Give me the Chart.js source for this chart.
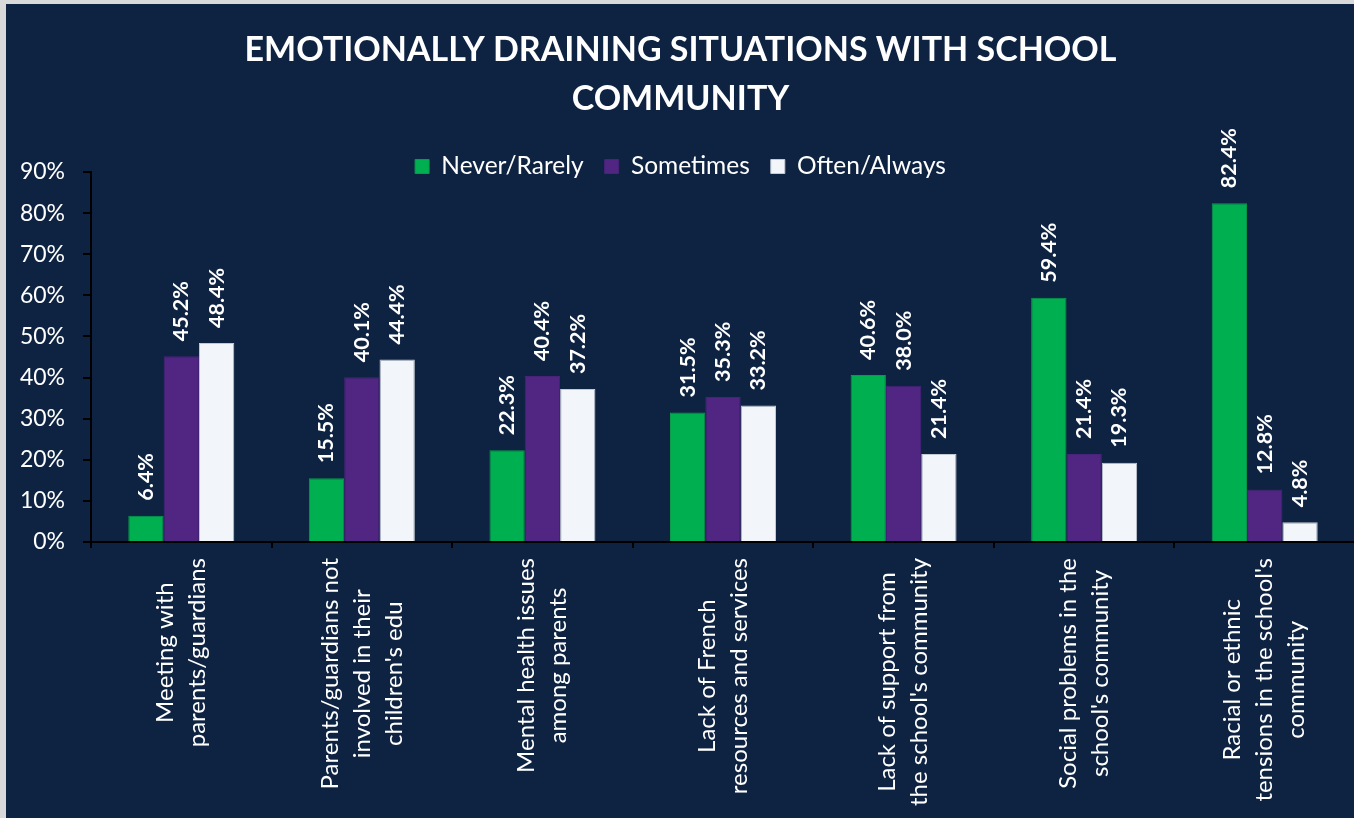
<!DOCTYPE html>
<html>
<head>
<meta charset="utf-8">
<script src="https://cdn.jsdelivr.net/npm/chart.js@4.4.1/dist/chart.umd.min.js"></script>
<style>
  html, body { margin: 0; padding: 0; background: #d9d9d9; overflow: hidden; }
  #wrap { position: absolute; left: 6px; top: 4px; width: 1350px; height: 814px; background: #0e2342; }
</style>
</head>
<body>
<div id="wrap"><canvas id="chart"></canvas></div>
<script>
const categories = [
  ['Meeting with', 'parents/guardians'],
  ['Parents/guardians not', 'involved in their', "children's edu"],
  ['Mental health issues', 'among parents'],
  ['Lack of French', 'resources and services'],
  ['Lack of support from', "the school's community"],
  ['Social problems in the', "school's community"],
  ['Racial or ethnic', "tensions in the school's", 'community']
];
const seriesNames = ['Never/Rarely', 'Sometimes', 'Often/Always'];
const neverRarely = [6.4, 15.5, 22.3, 31.5, 40.6, 59.4, 82.4];
const sometimes = [45.2, 40.1, 40.4, 35.3, 38.0, 21.4, 12.8];
const oftenAlways = [48.4, 44.4, 37.2, 33.2, 21.4, 19.3, 4.8];
const yMax = 90;
const yStep = 10;

const FONT = 'Lato, "Open Sans", sans-serif';

// value labels, rotated, above each bar
const valueLabels = {
  id: 'valueLabels',
  afterDatasetsDraw(chart) {
    const ctx = chart.ctx;
    ctx.save();
    ctx.font = 'bold 21.5px ' + FONT;
    ctx.fillStyle = '#ffffff';
    ctx.textAlign = 'left';
    ctx.textBaseline = 'middle';
    chart.data.datasets.forEach((ds, i) => {
      chart.getDatasetMeta(i).data.forEach((bar, j) => {
        ctx.save();
        ctx.translate(bar.x, bar.y - 15);
        ctx.rotate(-Math.PI / 2);
        ctx.fillText(ds.data[j].toFixed(1) + '%', 0, 0);
        ctx.restore();
      });
    });
    ctx.restore();
  }
};

// category labels: rotated, lines centred on each other
const categoryLabels = {
  id: 'categoryLabels',
  afterDraw(chart) {
    const ctx = chart.ctx;
    const xs = chart.scales.x;
    const top = xs.top + 16;
    ctx.save();
    ctx.font = '24px ' + FONT;
    ctx.fillStyle = '#ffffff';
    ctx.textAlign = 'center';
    ctx.textBaseline = 'middle';
    chart.data.labels.forEach((lines, i) => {
      const x = xs.getPixelForValue(i);
      const maxW = Math.max(...lines.map(l => ctx.measureText(l).width));
      ctx.save();
      ctx.translate(x, top + maxW / 2);
      ctx.rotate(-Math.PI / 2);
      lines.forEach((l, k) => ctx.fillText(l, 0, (k - (lines.length - 1) / 2) * 32));
      ctx.restore();
    });
    ctx.restore();
  }
};

// legend sits closer to the plot than the layout allows: nudge it down
const legendNudge = {
  id: 'legendNudge',
  afterLayout(chart) {
    if (chart.legend) {
      chart.legend.top += 16.75;
      chart.legend.bottom += 16.75;
    }
  }
};

function draw() {
  Chart.defaults.color = '#ffffff';
  Chart.defaults.font.family = FONT;

  new Chart(document.getElementById('chart'), {
    type: 'bar',
    data: {
      labels: categories,
      datasets: [
        { label: seriesNames[0], data: neverRarely, backgroundColor: '#00b050', borderColor: '#0a9a4a', borderWidth: 1 },
        { label: seriesNames[1], data: sometimes, backgroundColor: '#512683', borderColor: '#48237a', borderWidth: 1 },
        { label: seriesNames[2], data: oftenAlways, backgroundColor: '#f2f5fa', borderColor: '#c4c9d2', borderWidth: 1 }
      ]
    },
    options: {
      responsive: true,
      maintainAspectRatio: false,
      animation: false,
      layout: { padding: { left: 0, right: 1, top: 0, bottom: 0 } },
      datasets: { bar: { categoryPercentage: 0.587, barPercentage: 1.0 } },
      plugins: {
        title: {
          display: true,
          text: ['EMOTIONALLY DRAINING SITUATIONS WITH SCHOOL', 'COMMUNITY'],
          color: '#ffffff',
          font: { size: 34, weight: 'bold', lineHeight: 49 / 34 },
          padding: { top: 22, bottom: -7.5 }
        },
        legend: {
          position: 'top',
          labels: {
            color: '#ffffff',
            boxWidth: 14,
            boxHeight: 14,
            padding: 21,
            font: { size: 24.5 }
          }
        },
        tooltip: { enabled: false }
      },
      scales: {
        x: {
          grid: { drawOnChartArea: false, color: '#000000', lineWidth: 2, tickLength: 6 },
          border: { color: '#000000', width: 2 },
          ticks: { display: false },
          afterFit: (scale) => { scale.height = 276; }
        },
        y: {
          min: 0,
          max: yMax,
          grid: { drawOnChartArea: false, color: '#000000', lineWidth: 2, tickLength: 8 },
          border: { color: '#000000', width: 2 },
          ticks: {
            stepSize: yStep,
            padding: 18,
            color: '#ffffff',
            font: { size: 23 },
            callback: (v) => v + '%'
          },
          afterFit: (scale) => { scale.width = 85; }
        }
      }
    },
    plugins: [valueLabels, categoryLabels, legendNudge]
  });
}

Promise.all([
  document.fonts.load('22px Lato'),
  document.fonts.load('bold 33px Lato')
]).then(draw, draw);
</script>
</body>
</html>
